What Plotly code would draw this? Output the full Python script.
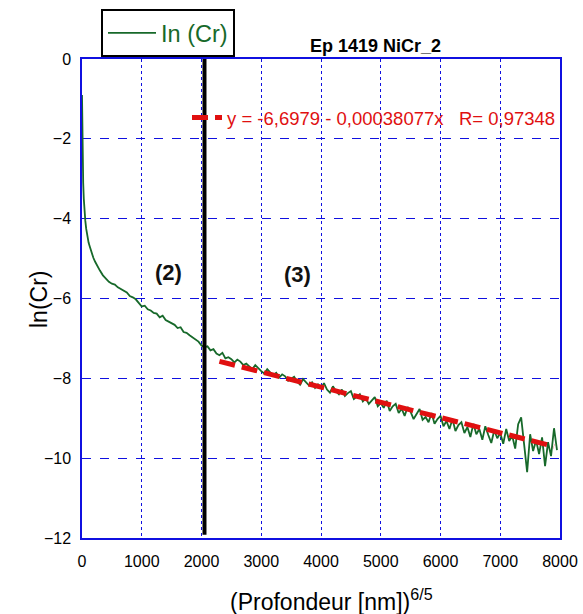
import plotly.graph_objects as go

# ---- data ----
depth = [0, 3, 6, 10, 15, 20, 30, 40, 55, 70, 90, 110, 130, 160, 190, 220, 260, 300, 350, 400,
         450, 500, 550, 600, 650, 700, 750, 800, 850, 900, 950, 1000, 1050, 1100, 1150, 1200,
         1250, 1300, 1350, 1400, 1450, 1500, 1550, 1600, 1650, 1700, 1750, 1800, 1850, 1900,
         1950, 2000, 2050, 2100, 2150, 2200, 2250, 2300, 2350, 2400, 2450, 2500, 2550, 2600,
         2650, 2700, 2750, 2800, 2850, 2900, 2950, 3000, 3050, 3100, 3150, 3200, 3250, 3300,
         3350, 3400, 3450, 3500, 3550, 3600, 3650, 3700, 3750, 3800, 3850, 3900, 3950, 4000,
         4050, 4100, 4150, 4200, 4250, 4300, 4350, 4400, 4450, 4500, 4550, 4600, 4650, 4700,
         4750, 4800, 4850, 4900, 4950, 5000, 5050, 5100, 5150, 5200, 5250, 5300, 5350, 5400,
         5450, 5500, 5550, 5600, 5650, 5700, 5750, 5800, 5850, 5900, 5950, 6000, 6050, 6100,
         6150, 6200, 6250, 6300, 6350, 6400, 6450, 6500, 6550, 6600, 6650, 6700, 6750, 6800,
         6850, 6900, 6950, 7000, 7050, 7100, 7150, 7200, 7250, 7300, 7350, 7400, 7450, 7500,
         7550, 7600, 7650, 7700, 7750, 7800, 7850, 7900, 7950]
ln_cr = [-0.9, -1.4, -1.9, -2.4, -2.8, -3.1, -3.5, -3.8, -4.05, -4.25, -4.45, -4.6, -4.7, -4.85, -4.98, -5.08, -5.2, -5.3, -5.42, -5.5,
         -5.58, -5.63, -5.65, -5.72, -5.76, -5.82, -5.85, -5.94, -5.97, -6.02, -6.10, -6.20, -6.18, -6.27, -6.30, -6.36,
         -6.38, -6.47, -6.43, -6.54, -6.58, -6.62, -6.66, -6.74, -6.72, -6.84, -6.86, -6.92, -6.97, -7.02,
         -7.08, -7.18, -7.22, -7.20, -7.30, -7.27, -7.38, -7.42, -7.36, -7.50, -7.47, -7.52, -7.60, -7.53,
         -7.58, -7.67, -7.63, -7.70, -7.77, -7.67, -7.75, -7.82, -7.88, -7.77, -7.85, -7.92, -7.86, -7.98,
         -7.90, -7.95, -8.06, -8.00, -7.96, -8.08, -8.16, -8.02, -8.11, -8.18, -8.10, -8.24, -8.15, -8.24,
         -8.12, -8.28, -8.36, -8.20, -8.32, -8.40, -8.28, -8.44, -8.37, -8.32, -8.52, -8.47, -8.40, -8.58,
         -8.50, -8.64, -8.54, -8.47, -8.70, -8.62, -8.74, -8.56, -8.82, -8.70, -8.64, -8.87, -8.76, -8.94,
         -8.72, -8.84, -9.02, -8.88, -8.77, -9.04, -8.97, -9.10, -8.87, -9.14, -9.02, -8.94, -9.20, -9.07,
         -9.27, -9.02, -9.32, -9.17, -9.10, -9.37, -9.22, -9.47, -9.14, -9.40, -9.27, -9.54, -9.20, -9.42,
         -9.62, -9.30, -9.50, -9.37, -9.64, -9.27, -9.57, -9.44, -9.76, -9.15, -8.98, -9.66, -10.35, -9.40,
         -9.82, -9.55, -9.90, -9.48, -10.20, -9.60, -9.95, -9.25, -9.80]

fit_intercept = -6.6979
fit_slope = -0.00038077
fit_range = [2300, 7900]
boundary_x = 2050

x_ticks = [0, 1000, 2000, 3000, 4000, 5000, 6000, 7000, 8000]
y_ticks = [0, -2, -4, -6, -8, -10, -12]

FONT = "Liberation Sans, Arial, sans-serif"
GRID = "#1010e0"

fig = go.Figure()
fig.add_trace(go.Scatter(
    x=depth, y=ln_cr, mode="lines", name="In (Cr)",
    line=dict(color="#17692a", width=1.8), legend="legend"))
fit_y = [fit_intercept + fit_slope * v for v in fit_range]
fig.add_trace(go.Scatter(
    x=fit_range, y=fit_y, mode="lines",
    name="y = -6,6979 - 0,00038077x   R= 0,97348",
    line=dict(color="#e01010", width=5, dash="16px,7px"), legend="legend2"))

fig.add_shape(type="line", xref="x", yref="y", x0=boundary_x, x1=boundary_x, y0=-11.92, y1=0,
              line=dict(color="black", width=4))

fig.add_annotation(x=1440, y=-5.36, text="<b>(2)</b>", showarrow=False,
                   font=dict(size=22, color="#111", family=FONT))
fig.add_annotation(x=3600, y=-5.41, text="<b>(3)</b>", showarrow=False,
                   font=dict(size=22, color="#111", family=FONT))
fig.add_annotation(xref="paper", yref="paper", x=(375 - 82) / 478, y=1 + (59 - 34) / 479,
                   text="<b>Ep 1419 NiCr_2</b>", showarrow=False,
                   font=dict(size=18, color="black", family=FONT))
fig.add_annotation(xref="paper", yref="paper", x=(24 - 82) / 478, y=(538 - 299) / 479,
                   text="ln(Cr)", showarrow=False, textangle=-90,
                   font=dict(size=23, color="black", family=FONT))
fig.add_annotation(xref="paper", yref="paper", x=(331 - 82) / 478, y=-(583 - 538) / 479,
                   yanchor="top", text="(Profondeur [nm])<sup>6/5</sup>", showarrow=False,
                   font=dict(size=23, color="black", family=FONT))

fig.update_layout(
    width=583, height=614,
    margin=dict(l=82, r=23, t=59, b=76, autoexpand=False),
    paper_bgcolor="white", plot_bgcolor="white",
    font=dict(family=FONT, color="black", size=16),
    showlegend=True,
    legend=dict(xref="container", yref="container", x=101 / 583, y=1 - 9 / 614,
                xanchor="left", yanchor="top", itemwidth=48,
                bordercolor="black", borderwidth=2, bgcolor="white",
                font=dict(size=23.5, color="#17692a", family=FONT)),
    legend2=dict(x=(187 - 82) / 478, y=1 - (118 - 59) / 479, xanchor="left", yanchor="middle",
                 bgcolor="rgba(0,0,0,0)", borderwidth=0,
                 font=dict(size=18.5, color="#e01010", family=FONT)),
    xaxis=dict(range=[0, 8000], tickvals=x_ticks, showgrid=True, gridcolor=GRID, griddash="dot",
               gridwidth=1, zeroline=False, showline=True, linecolor=GRID, linewidth=1.5, mirror=True,
               ticks="", tickfont=dict(size=16, family=FONT), ticklabelstandoff=8),
    yaxis=dict(range=[-12, 0], tickvals=y_ticks, showgrid=True, gridcolor=GRID, griddash="dash",
               gridwidth=1, zeroline=False, showline=True, linecolor=GRID, linewidth=1.5, mirror=True,
               ticks="", tickfont=dict(size=16, family=FONT), ticklabelstandoff=6),
)

fig.write_html("out.html", config={"displayModeBar": False},
               post_script="document.body.style.margin='0px';")
